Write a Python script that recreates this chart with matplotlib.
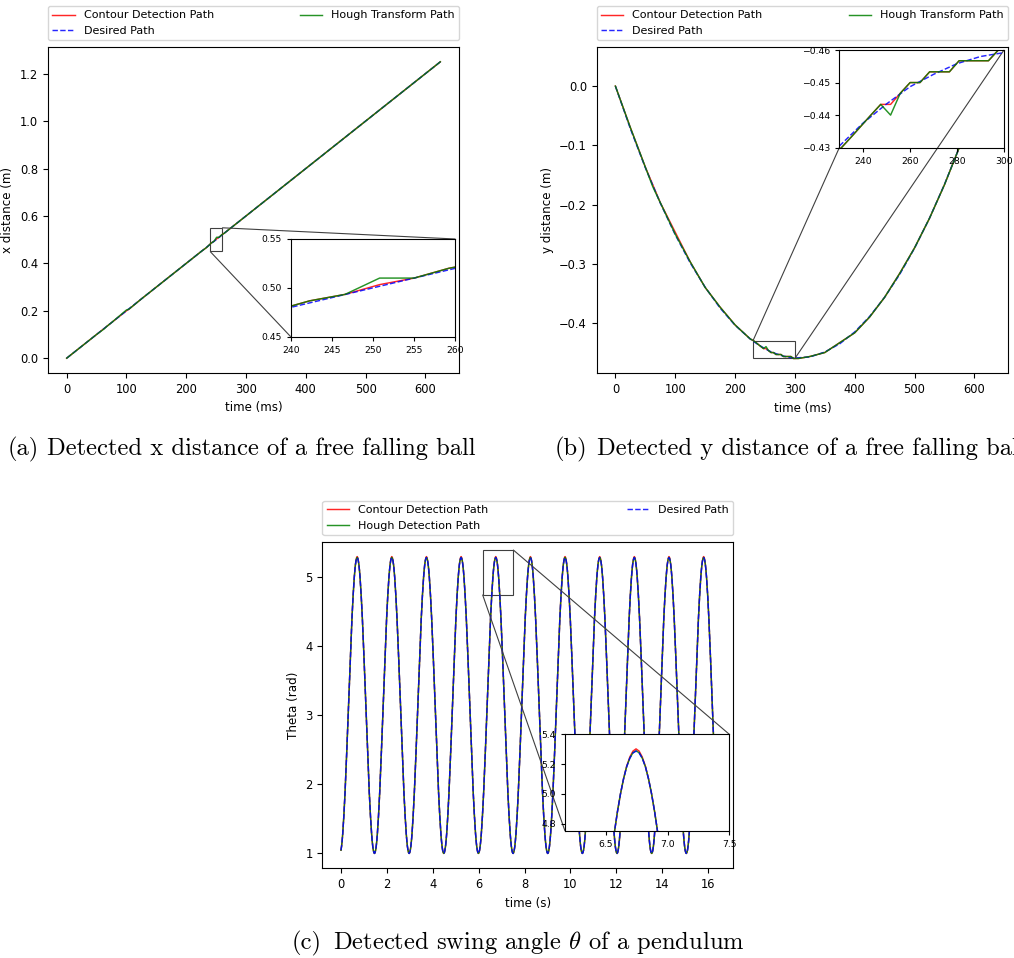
"""Tracking accuracy of the contour and Hough detectors on a falling ball and a pendulum."""

import matplotlib.pyplot as plt
import numpy as np
from mpl_toolkits.axes_grid1.inset_locator import mark_inset

plt.rcParams['mathtext.fontset'] = 'cm'

# ---- (a) x distance of the ball, time in ms ----
x_time_desired = [0, 625]
x_desired = [0.0, 1.25]
x_time = [0, 25, 50, 62.5, 66.7, 75, 100, 104.2, 125, 150, 175, 200, 225, 233.9, 238.1,
          242.3, 246.6, 250.8, 255.0, 259.2, 263.4, 275, 300, 325, 350, 375, 400, 425, 450,
          475, 500, 525, 550, 575, 600, 625]
x_contour = [0.0, 0.0500, 0.1000, 0.1250, 0.1333, 0.1500, 0.2000, 0.2067, 0.2500, 0.3000,
             0.3500, 0.4000, 0.4500, 0.4667, 0.4767, 0.4867, 0.4933, 0.5033, 0.5100, 0.5200,
             0.5267, 0.5500, 0.6000, 0.6500, 0.7000, 0.7500, 0.8000, 0.8500, 0.9000, 0.9500,
             1.0000, 1.0500, 1.1000, 1.1500, 1.2000, 1.2500]
x_hough = [0.0, 0.0500, 0.1000, 0.1233, 0.1333, 0.1500, 0.2033, 0.2067, 0.2500, 0.3000,
           0.3500, 0.4000, 0.4500, 0.4667, 0.4767, 0.4867, 0.4933, 0.5100, 0.5100, 0.5200,
           0.5267, 0.5500, 0.6000, 0.6500, 0.7000, 0.7500, 0.8000, 0.8500, 0.9000, 0.9500,
           1.0000, 1.0500, 1.1000, 1.1500, 1.2000, 1.2500]

# ---- (b) y distance of the ball, time in ms ----
y_time_desired = [0, 25, 50, 75, 100, 125, 150, 175, 200, 225, 230, 240, 250, 260, 270, 280,
                  290, 300, 325, 350, 375, 400, 425, 450, 475, 500, 525, 550, 575, 600, 625]
y_desired = [0.0, -0.0719, -0.1377, -0.1974, -0.2510, -0.2984, -0.3396, -0.3748, -0.4038,
             -0.4267, -0.4305, -0.4375, -0.4434, -0.4487, -0.4525, -0.4558, -0.4580, -0.4592,
             -0.4575, -0.4491, -0.4352, -0.4152, -0.3890, -0.3567, -0.3183, -0.2738, -0.2231,
             -0.1662, -0.1033, -0.0342, 0.0410]
y_time = [0, 25, 50, 62.5, 75, 100, 125, 150, 175, 200, 225, 230.9, 235.1, 239.3, 243.4,
          247.6, 251.8, 255.9, 260.1, 264.3, 268.4, 272.6, 276.8, 280.9, 285.1, 289.3, 293.4,
          297.6, 301.8, 306.0, 325, 350, 375, 400, 425, 450, 475, 500, 525, 550, 575, 600, 625]
y_contour = [0.0, -0.0700, -0.1367, -0.1667, -0.1967, -0.2467, -0.2967, -0.3400, -0.3733,
             -0.4033, -0.4267, -0.4300, -0.4333, -0.4367, -0.4400, -0.4433, -0.4433, -0.4467,
             -0.4500, -0.4500, -0.4533, -0.4533, -0.4533, -0.4567, -0.4567, -0.4567, -0.4567,
             -0.4600, -0.4600, -0.4600, -0.4567, -0.4500, -0.4333, -0.4167, -0.3900, -0.3567,
             -0.3167, -0.2733, -0.2233, -0.1667, -0.1033, -0.0333, 0.0400]
y_hough = [0.0, -0.0700, -0.1367, -0.1700, -0.1967, -0.2500, -0.2967, -0.3400, -0.3733,
           -0.4033, -0.4267, -0.4300, -0.4333, -0.4367, -0.4400, -0.4433, -0.4400, -0.4467,
           -0.4500, -0.4500, -0.4533, -0.4533, -0.4533, -0.4567, -0.4567, -0.4567, -0.4567,
           -0.4600, -0.4600, -0.4600, -0.4567, -0.4500, -0.4333, -0.4167, -0.3900, -0.3567,
           -0.3167, -0.2733, -0.2233, -0.1667, -0.1033, -0.0333, 0.0400]

# ---- (c) pendulum swing angle, time in s ----
# one rising half swing (lowest to highest angle), mirrored for the way back
swing_offsets = [0.000, 0.025, 0.050, 0.076, 0.101, 0.126, 0.151, 0.176, 0.201, 0.227, 0.252,
                 0.277, 0.302, 0.327, 0.352, 0.378, 0.403, 0.428, 0.453, 0.478, 0.503, 0.528,
                 0.554, 0.579, 0.604, 0.629, 0.654, 0.679, 0.705, 0.730, 0.755]
theta_desired_rise = [0.997, 1.009, 1.044, 1.102, 1.183, 1.284, 1.407, 1.548, 1.707, 1.881,
                      2.070, 2.270, 2.479, 2.696, 2.918, 3.142, 3.366, 3.588, 3.805, 4.014,
                      4.214, 4.403, 4.577, 4.736, 4.877, 4.999, 5.101, 5.182, 5.240, 5.275,
                      5.287]
theta_contour_rise = [0.997, 1.009, 1.044, 1.102, 1.183, 1.284, 1.407, 1.548, 1.707, 1.881,
                      2.070, 2.270, 2.479, 2.696, 2.918, 3.142, 3.366, 3.588, 3.805, 4.014,
                      4.214, 4.403, 4.577, 4.736, 4.877, 4.999, 5.101, 5.185, 5.248, 5.287,
                      5.302]
theta_hough_rise = [0.997, 1.009, 1.044, 1.102, 1.183, 1.284, 1.407, 1.548, 1.707, 1.881,
                    2.070, 2.270, 2.479, 2.696, 2.918, 3.142, 3.366, 3.588, 3.805, 4.014,
                    4.214, 4.403, 4.577, 4.736, 4.877, 4.999, 5.101, 5.182, 5.240, 5.276,
                    5.289]
swing_starts = [-0.050, 1.460, 2.970, 4.480, 5.990, 7.500, 9.010, 10.520, 12.030, 13.540, 15.050]
swing_end = 16.3


def swing_series(rise):
    """Chain the recorded half swing into the full pendulum run."""
    half = swing_offsets[-1]
    cyc_t = np.concatenate([swing_offsets, 2 * half - np.array(swing_offsets[-2::-1])])[:-1]
    cyc_v = np.concatenate([rise, rise[-2::-1]])[:-1]
    t = np.concatenate([s + cyc_t for s in swing_starts])
    v = np.tile(cyc_v, len(swing_starts))
    keep = (t >= -1e-6) & (t <= swing_end)
    return t[keep], v[keep]


def px_box(left, top, right, bottom):
    """Axes rectangle in figure fractions from pixel edges."""
    return [left / W, 1 - bottom / H, (right - left) / W, (bottom - top) / H]


def style_inset(ax, xlim, ylim, xticks, yticks):
    ax.set_xlim(*xlim)
    ax.set_ylim(*ylim)
    ax.set_xticks(xticks)
    ax.set_yticks(yticks)
    ax.tick_params(labelsize=6.7, length=3)


W, H = 1014, 958
fig = plt.figure(figsize=(W / 100, H / 100), dpi=100)

LW = 1.05
ALPHA = 0.85
TICK_FS = 8.3
LABEL_FS = 8.6
leg_kw = dict(bbox_to_anchor=(0., 1.02, 1., .102), loc='lower left', ncol=2,
              mode='expand', borderaxespad=0., fontsize=8)

# ---------------- (a) ----------------
ax_a = fig.add_axes(px_box(48, 47, 459, 373))
ins_a = fig.add_axes(px_box(290.7, 239, 455.3, 336.7))
for ax in (ax_a, ins_a):
    ax.plot(x_time, x_contour, 'r', lw=LW, alpha=ALPHA, label='Contour Detection Path')
    ax.plot(x_time_desired, x_desired, 'b--', lw=LW, alpha=ALPHA, label='Desired Path')
    ax.plot(x_time, x_hough, 'g', lw=LW, alpha=ALPHA, label='Hough Transform Path')
ax_a.set_xlabel('time (ms)', fontsize=LABEL_FS)
ax_a.set_ylabel('x distance (m)', fontsize=LABEL_FS)
ax_a.tick_params(labelsize=TICK_FS)
ax_a.legend(**leg_kw)
style_inset(ins_a, (240, 260), (0.45, 0.55), [240, 245, 250, 255, 260], [0.45, 0.50, 0.55])
mark_inset(ax_a, ins_a, loc1=1, loc2=3, fc='none', ec='0.25', lw=0.8)

# ---------------- (b) ----------------
ax_b = fig.add_axes(px_box(596.7, 47, 1008, 373.3))
ins_b = fig.add_axes(px_box(839.3, 50, 1004, 147.7))
for ax in (ax_b, ins_b):
    ax.plot(y_time, y_contour, 'r', lw=LW, alpha=ALPHA, label='Contour Detection Path')
    ax.plot(y_time_desired, y_desired, 'b--', lw=LW, alpha=ALPHA, label='Desired Path')
    ax.plot(y_time, y_hough, 'g', lw=LW, alpha=ALPHA, label='Hough Transform Path')
ax_b.set_xlabel('time (ms)', fontsize=LABEL_FS)
ax_b.set_ylabel('y distance (m)', fontsize=LABEL_FS)
ax_b.tick_params(labelsize=TICK_FS)
ax_b.legend(**leg_kw)
style_inset(ins_b, (230, 300), (-0.43, -0.46), [240, 260, 280, 300],
            [-0.43, -0.44, -0.45, -0.46])
mark_inset(ax_b, ins_b, loc1=1, loc2=3, fc='none', ec='0.25', lw=0.8)

# ---------------- (c) ----------------
t_c, th_contour = swing_series(theta_contour_rise)
_, th_hough = swing_series(theta_hough_rise)
_, th_desired = swing_series(theta_desired_rise)

ax_c = fig.add_axes(px_box(322.3, 541.7, 733.3, 868.3))
ins_c = fig.add_axes(px_box(565, 734.3, 729.3, 831))
for ax in (ax_c, ins_c):
    ax.plot(t_c, th_contour, 'r', lw=LW, alpha=ALPHA, label='Contour Detection Path')
    ax.plot(t_c, th_hough, 'g', lw=LW, alpha=ALPHA, label='Hough Detection Path')
    ax.plot(t_c, th_desired, 'b--', lw=LW, alpha=ALPHA, label='Desired Path')
ax_c.set_xlabel('time (s)', fontsize=LABEL_FS)
ax_c.set_ylabel('Theta (rad)', fontsize=LABEL_FS)
ax_c.tick_params(labelsize=TICK_FS)
ax_c.legend(**leg_kw)
style_inset(ins_c, (6.17, 7.5), (4.75, 5.4), [6.5, 7.0, 7.5], [4.8, 5.0, 5.2, 5.4])
mark_inset(ax_c, ins_c, loc1=1, loc2=3, fc='none', ec='0.25', lw=0.8)

# ---------------- captions ----------------
cap_kw = dict(family='cmr10', fontsize=17.7, va='baseline', ha='left')
captions = [
    (7.3, 46.7, 455, '(a)', 'Detected x distance of a free falling ball'),
    (555, 597.3, 455, '(b)', 'Detected y distance of a free falling ball'),
    (291.7, 333.3, 949.3, '(c)', r'Detected swing angle $\theta$ of a pendulum'),
]
for x_tag, x_txt, base, tag, text in captions:
    fig.text(x_tag / W, 1 - base / H, tag, **cap_kw)
    fig.text(x_txt / W, 1 - base / H, text, **cap_kw)

fig.savefig('out.png', dpi=100)
